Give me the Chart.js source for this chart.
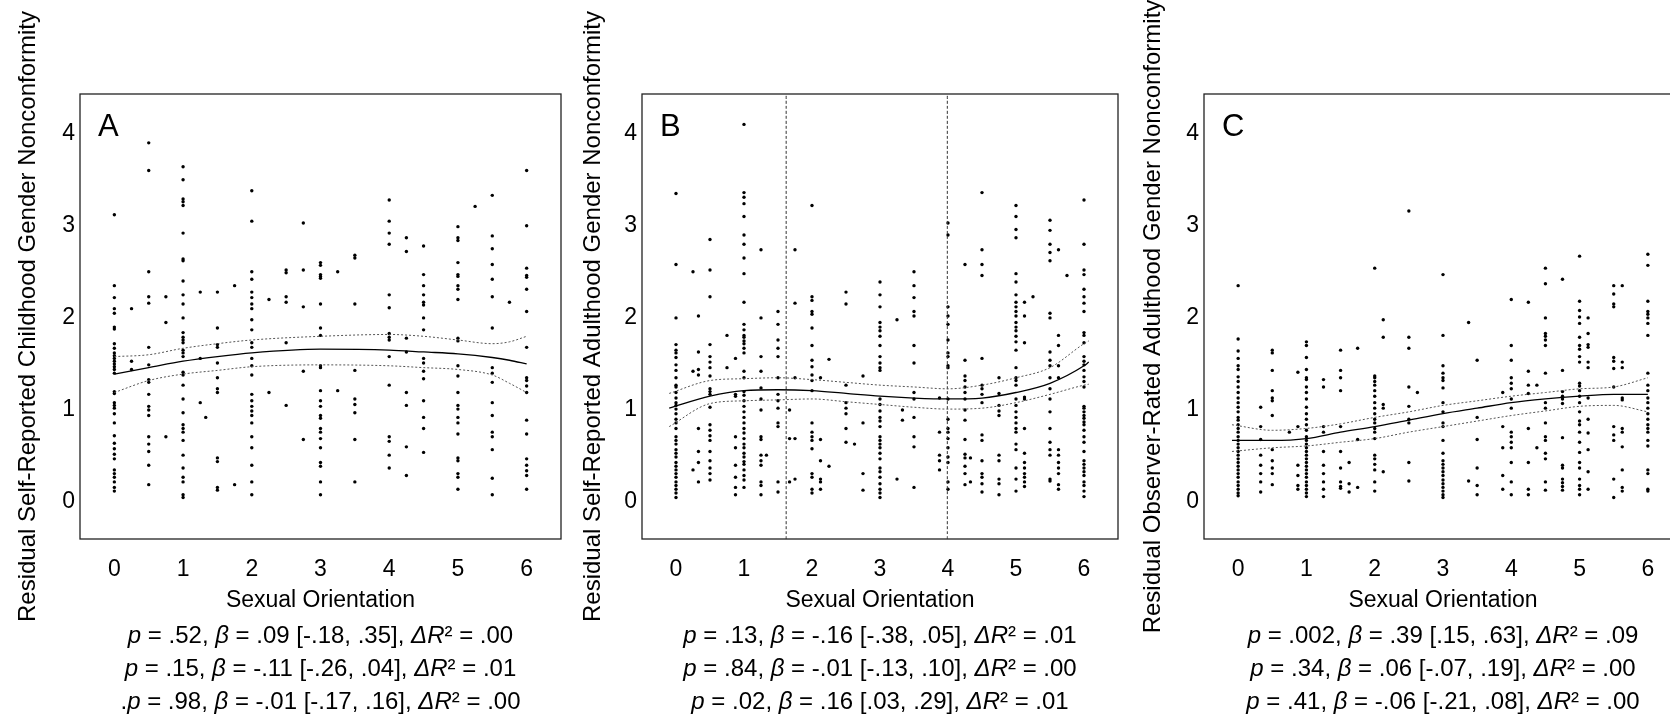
<!DOCTYPE html>
<html>
<head>
<meta charset="utf-8">
<script src="https://cdn.jsdelivr.net/npm/chart.js@4.4.1/dist/chart.umd.min.js"></script>
<style>
  html, body { margin: 0; padding: 0; background: #fff; overflow: hidden; }
  body { width: 1670px; height: 722px; position: relative; }
  canvas { position: absolute; top: 0; }
</style>
</head>
<body>
<canvas id="panelA" width="560" height="722" style="left:10px"></canvas>
<canvas id="panelB" width="560" height="722" style="left:575px"></canvas>
<canvas id="panelC" width="560" height="722" style="left:1135px"></canvas>
<script>
// axis ticks (same for all three panels)
const xTicks = [0, 1, 2, 3, 4, 5, 6];
const yTicks = [0, 1, 2, 3, 4];

// ---- Panel A: childhood, self-reported ----
const aCols = [0, 0.25, 0.5, 0.75, 1, 1.25, 1.33, 1.5, 1.75, 2, 2.25, 2.5, 2.75, 3, 3.25, 3.5, 4, 4.25, 4.5, 5, 5.25, 5.5, 5.75, 6];
const aVals = [
  [3.12,2.35,2.22,2.1,2.05,1.9,1.88,1.72,1.67,1.62,1.59,1.56,1.53,1.5,1.47,1.44,1.4,1.2,1.18,1.08,1.05,1.02,0.96,0.86,0.72,0.64,0.58,0.52,0.47,0.35,0.31,0.27,0.22,0.16,0.12],
  [2.1,1.53,1.44],
  [3.9,3.6,2.5,2.23,2.16,1.68,1.49,1.33,1.3,1.17,1.04,1.0,0.94,0.71,0.63,0.55,0.4,0.19],
  [2.23,1.95,0.71],
  [3.64,3.5,3.29,3.26,3.22,2.92,2.64,2.62,2.4,2.25,2.15,2.0,1.84,1.79,1.76,1.73,1.65,1.62,1.58,1.41,1.38,1.27,1.12,0.97,0.84,0.8,0.76,0.67,0.51,0.37,0.27,0.22,0.08,0.05],
  [2.28,1.56,1.08],
  [0.92],
  [2.28,1.89,1.71,1.68,1.51,1.35,1.23,1.19,0.48,0.44,0.16,0.13],
  [2.35,0.19],
  [3.38,3.05,2.5,2.42,2.28,2.22,2.15,2.1,1.98,1.87,1.73,1.68,1.56,1.48,1.38,1.17,1.1,1.04,0.99,0.94,0.86,0.71,0.59,0.4,0.22,0.08],
  [2.2,1.19],
  [2.52,2.49,2.23,2.17,1.73,1.05],
  [3.03,2.52,2.12,1.42,0.68],
  [2.6,2.57,2.47,2.45,2.43,2.15,1.89,1.81,1.48,1.46,1.21,1.1,1.04,0.94,0.91,0.8,0.76,0.69,0.59,0.43,0.39,0.22,0.08],
  [2.5,1.21],
  [2.68,2.65,2.15,1.43,1.12,1.06,0.97,0.68,0.22],
  [3.28,3.05,2.92,2.8,2.25,2.11,1.83,1.79,1.76,1.58,1.27,0.71,0.66,0.51,0.37],
  [2.87,2.72,1.78,1.63,1.19,1.05,0.6,0.29],
  [2.78,2.47,2.35,2.25,2.17,2.14,2.0,1.87,1.56,1.51,1.42,1.34,1.1,0.92,0.8,0.54],
  [2.99,2.87,2.84,2.6,2.47,2.45,2.35,2.31,2.2,1.78,1.75,1.48,1.37,1.19,1.05,1.01,0.92,0.86,0.74,0.48,0.45,0.31,0.27,0.14],
  [3.21],
  [3.33,2.89,2.75,2.58,2.42,2.23,1.89,1.46,1.4,1.3,1.08,0.94,0.76,0.71,0.57,0.26,0.08],
  [2.17],
  [3.6,3.0,2.54,2.46,2.44,2.31,2.07,1.68,1.35,1.32,1.26,1.19,0.89,0.74,0.47,0.4,0.34,0.29,0.14]
];
const aFitX = [0, 0.5, 1, 1.5, 2, 3, 4, 4.5, 5, 5.5, 5.75, 6];
const aFit = [1.39, 1.46, 1.53, 1.58, 1.62, 1.66, 1.65, 1.63, 1.61, 1.57, 1.54, 1.5];
const aUpper = [1.58, 1.6, 1.67, 1.72, 1.76, 1.8, 1.82, 1.8, 1.76, 1.72, 1.74, 1.8];
const aLower = [1.19, 1.32, 1.39, 1.43, 1.47, 1.49, 1.48, 1.46, 1.44, 1.38, 1.29, 1.19];
const aStats = [
  "p = .52, β = .09 [-.18, .35], ΔR² = .00",
  "p = .15, β = -.11 [-.26, .04], ΔR² = .01",
  ".p = .98, β = -.01 [-.17, .16], ΔR² = .00"
];

// ---- Panel B: adulthood, self-reported ----
const bCols = [0, 0.25, 0.33, 0.5, 0.75, 0.875, 1, 1.25, 1.33, 1.5, 1.67, 1.75, 2, 2.125, 2.25, 2.5, 2.625, 2.75, 3, 3.25, 3.33, 3.5, 3.875, 4, 4.25, 4.33, 4.5, 4.75, 5, 5.125, 5.25, 5.5, 5.625, 5.75, 6];
const bVals = [
  [3.35,2.58,2.0,1.71,1.65,1.62,1.57,1.49,1.43,1.35,1.27,1.25,1.19,1.13,1.08,1.05,1.01,0.96,0.9,0.86,0.8,0.71,0.67,0.63,0.57,0.53,0.49,0.43,0.39,0.35,0.31,0.27,0.22,0.18,0.14,0.1,0.05],
  [2.5,1.42,0.35],
  [2.02,1.63,1.44,1.38,0.8,0.55,0.43,0.22],
  [2.85,2.52,2.23,1.71,1.58,1.52,1.46,1.37,1.23,1.2,1.17,1.03,0.84,0.78,0.72,0.67,0.55,0.45,0.37,0.31,0.24],
  [1.81,1.46],
  [1.56,1.17,1.15,0.71,0.59,0.4,0.27,0.16,0.08],
  [4.1,3.36,3.31,3.24,3.1,2.9,2.8,2.65,2.48,2.17,1.93,1.87,1.81,1.79,1.75,1.72,1.67,1.62,1.42,1.35,1.2,1.16,1.1,1.04,0.98,0.92,0.86,0.8,0.75,0.69,0.63,0.59,0.53,0.49,0.44,0.41,0.35,0.29,0.24,0.16],
  [2.74,2.0,1.58,1.42,1.24,1.12,1.0,0.71,0.68,0.51,0.45,0.4,0.22,0.18,0.08],
  [0.51],
  [2.07,1.93,1.76,1.67,1.58,1.35,1.17,1.1,1.02,0.86,0.82,0.22,0.11],
  [1.0,0.69,0.22],
  [2.74,2.16,1.35,0.69,0.25],
  [3.22,2.23,2.19,2.07,2.04,1.89,1.7,1.54,1.47,1.38,1.32,1.21,0.86,0.76,0.71,0.67,0.58,0.31,0.27,0.14,0.1],
  [1.35,0.68,0.45,0.25,0.22,0.14],
  [1.55,0.39],
  [2.28,2.15,1.27,1.08,1.02,0.96,0.8,0.65],
  [0.63],
  [1.37,0.86,0.31,0.13],
  [2.39,2.25,2.12,1.95,1.9,1.86,1.8,1.7,1.58,1.51,1.46,1.43,1.12,1.06,0.99,0.92,0.88,0.82,0.71,0.67,0.63,0.59,0.53,0.47,0.37,0.33,0.27,0.2,0.14,0.1,0.05],
  [1.98,0.25],
  [1.0,0.89],
  [2.5,2.35,2.22,2.07,2.02,1.7,1.51,1.19,1.12,0.92,0.71,0.6,0.16],
  [1.13,0.76,0.51,0.45,0.35],
  [3.03,2.9,2.12,2.02,1.93,1.76,1.62,1.58,1.48,1.46,1.12,0.9,0.8,0.76,0.69,0.59,0.49,0.43,0.22,0.14],
  [2.58,1.54,1.37,1.32,1.25,1.19,1.12,1.0,0.89,0.68,0.52,0.48,0.39,0.31,0.19],
  [0.48,0.22],
  [3.36,2.74,2.58,2.46,1.56,1.27,1.23,1.17,1.08,0.73,0.67,0.45,0.31,0.27,0.2,0.11],
  [1.35,1.18,1.05,0.99,0.94,0.51,0.45,0.25,0.2,0.08],
  [3.22,3.1,2.96,2.87,2.48,2.39,2.25,2.17,2.12,2.07,2.02,1.95,1.9,1.86,1.8,1.74,1.65,1.46,1.35,1.32,1.27,1.12,1.05,0.98,0.92,0.86,0.8,0.76,0.63,0.57,0.37,0.25,0.12],
  [2.17,2.02,1.73,1.14,1.12,0.8,0.53,0.43,0.37,0.31,0.27,0.22,0.17],
  [2.23],
  [3.06,2.95,2.8,2.71,2.62,2.05,2.0,1.63,1.54,1.48,1.35,1.23,1.12,0.98,0.8,0.65,0.57,0.51,0.25,0.23],
  [2.74,1.81,1.7,1.48,1.35,0.57,0.51,0.43,0.37,0.31,0.19,0.14],
  [2.46],
  [3.28,2.8,2.52,2.47,2.31,2.23,2.16,2.07,1.84,1.81,1.73,1.58,1.53,1.49,1.43,1.36,1.31,1.25,1.04,1.02,0.98,0.94,0.91,0.87,0.84,0.78,0.71,0.65,0.55,0.45,0.41,0.37,0.33,0.29,0.22,0.18,0.12,0.06]
];
const bFitX = [-0.1, 0.5, 1, 1.5, 2, 2.5, 3, 3.5, 4, 4.5, 5, 5.5, 6, 6.07];
const bFit = [1.02, 1.15, 1.21, 1.22, 1.21, 1.18, 1.15, 1.13, 1.12, 1.13, 1.19, 1.29, 1.48, 1.52];
const bUpper = [1.18, 1.32, 1.34, 1.35, 1.33, 1.3, 1.27, 1.25, 1.23, 1.27, 1.35, 1.46, 1.72, 1.75];
const bLower = [0.82, 1.07, 1.1, 1.11, 1.12, 1.09, 1.06, 1.03, 1.01, 1.02, 1.08, 1.17, 1.27, 1.28];
const bCutoffs = [1.62, 3.99];
const bStats = [
  "p = .13, β = -.16 [-.38, .05], ΔR² = .01",
  "p = .84, β = -.01 [-.13, .10], ΔR² = .00",
  "p = .02, β = .16 [.03, .29], ΔR² = .01"
];

// ---- Panel C: adulthood, observer-rated ----
const cCols = [0, 0.33, 0.5, 0.75, 0.875, 1, 1.25, 1.5, 1.625, 1.75, 2, 2.125, 2.5, 2.625, 3, 3.375, 3.5, 3.875, 4, 4.25, 4.375, 4.5, 4.75, 5, 5.125, 5.5, 5.625, 6];
const cVals = [
  [2.35,1.77,1.64,1.56,1.48,1.44,1.36,1.31,1.25,1.19,1.13,1.08,1.03,0.98,0.92,0.89,0.84,0.8,0.76,0.71,0.67,0.63,0.59,0.55,0.51,0.47,0.43,0.39,0.35,0.31,0.27,0.22,0.18,0.14,0.1,0.07],
  [1.03,0.82,0.68,0.51,0.4,0.31,0.22,0.11],
  [1.65,1.62,1.43,1.21,1.13,1.1,0.94,0.57,0.45,0.37,0.31,0.19],
  [0.76],
  [1.41,0.82,0.4,0.29,0.18,0.14],
  [1.74,1.7,1.57,1.44,1.35,1.33,1.25,1.19,1.12,1.03,0.96,0.9,0.84,0.78,0.71,0.67,0.63,0.59,0.55,0.51,0.47,0.43,0.39,0.35,0.31,0.27,0.22,0.18,0.14,0.1,0.06],
  [1.33,1.25,0.82,0.76,0.55,0.4,0.31,0.22,0.14,0.06],
  [1.65,1.43,1.35,1.21,0.82,0.55,0.37,0.22,0.17,0.15],
  [0.43,0.2,0.11],
  [1.67,0.68,0.16],
  [2.54,1.37,1.35,1.31,1.27,1.21,1.15,1.08,1.02,0.96,0.9,0.86,0.8,0.76,0.69,0.51,0.47,0.41,0.35,0.22,0.12],
  [1.98,1.79,1.06,1.02,0.33],
  [3.16,1.79,1.67,1.25,1.04,0.9,0.86,0.43,0.23],
  [1.19],
  [2.47,1.81,1.48,1.4,1.35,1.32,1.24,1.08,0.98,0.86,0.82,0.67,0.53,0.45,0.41,0.37,0.33,0.29,0.24,0.2,0.16,0.12,0.08,0.05],
  [1.95,0.23],
  [1.54,0.92,0.68,0.37,0.18,0.08],
  [1.19,0.82,0.59,0.29,0.14],
  [2.2,1.7,1.54,1.35,1.29,1.23,1.12,1.02,0.76,0.71,0.65,0.59,0.43,0.22,0.08],
  [2.17,1.42,1.27,1.18,0.8,0.43,0.14,0.08],
  [1.27,0.59],
  [2.54,2.37,2.0,1.83,1.8,1.76,1.7,1.4,1.08,1.02,0.86,0.71,0.67,0.53,0.47,0.22,0.13],
  [2.42,1.43,1.2,1.15,1.12,1.07,0.7,0.4,0.37,0.25,0.21,0.17,0.13],
  [2.67,2.18,2.08,2.01,1.94,1.79,1.7,1.66,1.58,1.52,1.29,1.26,1.21,1.15,1.08,0.98,0.88,0.84,0.76,0.65,0.54,0.43,0.37,0.25,0.18,0.14,0.08],
  [2.0,1.83,1.71,1.68,1.52,1.46,1.13,0.9,0.75,0.57,0.33,0.14],
  [2.35,2.26,2.15,2.12,1.57,1.53,1.45,1.25,0.82,0.73,0.67,0.25,0.05],
  [2.35,1.52,1.46,1.13,1.11,0.8,0.76,0.6,0.35,0.16,0.12],
  [2.69,2.57,2.18,2.07,2.04,2.0,1.94,1.81,1.4,1.27,1.21,1.13,1.08,1.02,0.96,0.9,0.84,0.8,0.76,0.67,0.61,0.35,0.31,0.14,0.12]
];
const cFitX = [-0.09, 0.5, 1, 1.5, 2, 2.5, 3, 3.5, 4, 4.5, 5, 5.5, 6];
const cFit = [0.67, 0.67, 0.69, 0.76, 0.82, 0.89, 0.96, 1.02, 1.08, 1.12, 1.15, 1.17, 1.17];
const cUpper = [0.84, 0.78, 0.8, 0.85, 0.92, 0.98, 1.05, 1.1, 1.15, 1.19, 1.23, 1.25, 1.35];
const cLower = [0.55, 0.59, 0.61, 0.65, 0.69, 0.76, 0.82, 0.88, 0.94, 0.99, 1.04, 1.05, 0.98];
const cStats = [
  "p = .002, β = .39 [.15, .63], ΔR² = .09",
  "p = .34, β = .06 [-.07, .19], ΔR² = .00",
  "p = .41, β = -.06 [-.21, .08], ΔR² = .00"
];

const FONT = "'Liberation Sans', Arial, sans-serif";

function toPoints(cols, vals) {
  const pts = [];
  cols.forEach((x, i) => vals[i].forEach(y => pts.push({ x: x, y: y })));
  return pts;
}
function toLine(xs, ys) {
  return xs.map((x, i) => ({ x: x, y: ys[i] }));
}

// box, panel letter and the regression lines of text under the x title
const extrasPlugin = {
  id: "extras",
  afterDraw(chart, args, opts) {
    const { ctx, chartArea: ca } = chart;
    ctx.save();
    ctx.strokeStyle = "#222";
    ctx.lineWidth = 1.3;
    ctx.strokeRect(ca.left, ca.top, ca.right - ca.left, ca.bottom - ca.top);

    ctx.fillStyle = "#000";
    ctx.font = "31px " + FONT;
    ctx.textBaseline = "alphabetic";
    ctx.textAlign = "left";
    ctx.fillText(opts.letter, ca.left + 18, ca.top + 42);

    // stats lines, italic for p, β and ΔR
    const cx = (ca.left + ca.right) / 2;
    ctx.textBaseline = "middle";
    opts.stats.forEach((line, k) => {
      const parts = line.split(/(p|β|ΔR)/).filter(s => s.length);
      const fonts = parts.map(s => (/^(p|β|ΔR)$/.test(s) ? "italic " : "") + "24px " + FONT);
      let w = 0;
      parts.forEach((s, i) => { ctx.font = fonts[i]; w += ctx.measureText(s).width; });
      let x = cx - w / 2;
      const y = ca.bottom + 97 + k * 33;
      parts.forEach((s, i) => {
        ctx.font = fonts[i];
        ctx.fillText(s, x, y);
        x += ctx.measureText(s).width;
      });
    });
    ctx.restore();
  }
};

function makePanel(id, p) {
  const datasets = [
    { data: toLine(p.fitX, p.fit), showLine: true, pointRadius: 0, borderColor: "#000", borderWidth: 1.3, fill: false },
    { data: toLine(p.fitX, p.upper), showLine: true, pointRadius: 0, borderColor: "#555", borderWidth: 1, borderDash: [2, 2], fill: false },
    { data: toLine(p.fitX, p.lower), showLine: true, pointRadius: 0, borderColor: "#555", borderWidth: 1, borderDash: [2, 2], fill: false }
  ];
  (p.cutoffs || []).forEach(x => {
    datasets.push({ data: [{ x: x, y: -0.4 }, { x: x, y: 4.43 }], showLine: true, pointRadius: 0, borderColor: "#333", borderWidth: 1, borderDash: [3, 2] });
  });
  datasets.push({ data: toPoints(p.cols, p.vals), pointRadius: 1.7, pointBorderWidth: 0, backgroundColor: "#000", borderColor: "#000" });

  new Chart(document.getElementById(id), {
    type: "scatter",
    data: { datasets: datasets },
    options: {
      responsive: false,
      animation: false,
      devicePixelRatio: 1,
      elements: { line: { tension: 0.4, cubicInterpolationMode: "monotone" } },
      layout: { padding: { top: 94, bottom: 103, left: 0, right: p.padRight } },
      plugins: {
        legend: { display: false },
        tooltip: { enabled: false },
        extras: { letter: p.letter, stats: p.stats }
      },
      scales: {
        x: {
          type: "linear",
          min: -0.5,
          max: 6.5,
          grid: { display: false, drawTicks: false },
          border: { display: false },
          afterBuildTicks: s => { s.ticks = xTicks.map(v => ({ value: v })); },
          afterFit: s => { s.height = 80; },
          ticks: { padding: 17, color: "#000", font: { family: FONT, size: 23 } },
          title: { display: true, text: "Sexual Orientation", color: "#000", padding: { top: 0, bottom: 5 }, font: { family: FONT, size: 23 } }
        },
        y: {
          type: "linear",
          min: -0.4,
          max: 4.43,
          grid: { display: false, drawTicks: false },
          border: { display: false },
          afterBuildTicks: s => { s.ticks = yTicks.map(v => ({ value: v })); },
          afterFit: s => { s.width = p.axisWidth; },
          ticks: { padding: 5, color: "#000", font: { family: FONT, size: 23 } },
          title: { display: true, text: p.yTitle, color: "#000", padding: { top: 4, bottom: 0 }, font: { family: FONT, size: 24 } }
        }
      }
    },
    plugins: [extrasPlugin]
  });
}

makePanel("panelA", {
  letter: "A", yTitle: "Residual Self-Reported Childhood Gender Nonconformity",
  cols: aCols, vals: aVals, fitX: aFitX, fit: aFit, upper: aUpper, lower: aLower,
  stats: aStats, axisWidth: 70, padRight: 9
});
makePanel("panelB", {
  letter: "B", yTitle: "Residual Self-Reported Adulthood Gender Nonconformity",
  cols: bCols, vals: bVals, fitX: bFitX, fit: bFit, upper: bUpper, lower: bLower,
  cutoffs: bCutoffs, stats: bStats, axisWidth: 67, padRight: 17
});
makePanel("panelC", {
  letter: "C", yTitle: "Residual Observer-Rated Adulthood Gender Nonconformity",
  cols: cCols, vals: cVals, fitX: cFitX, fit: cFit, upper: cUpper, lower: cLower,
  stats: cStats, axisWidth: 69, padRight: 13
});
</script>
</body>
</html>
